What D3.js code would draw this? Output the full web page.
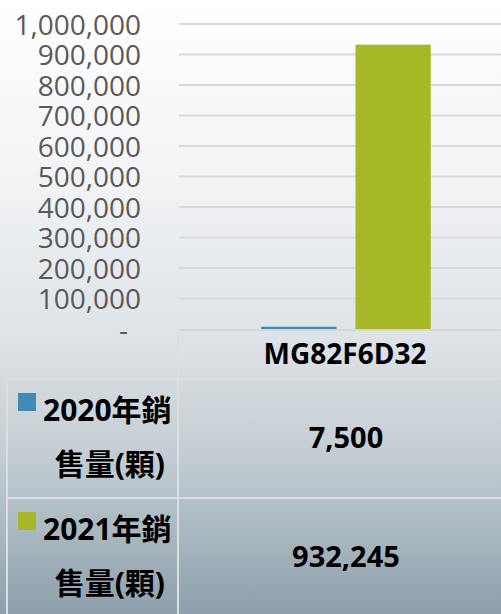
<!DOCTYPE html>
<html>
<head>
<meta charset="utf-8">
<script src="https://cdn.jsdelivr.net/npm/d3@7"></script>
<style>
html,body{margin:0;padding:0;overflow:hidden;}
svg{display:block;}
</style>
</head>
<body>
<svg id="chart" width="501" height="614"></svg>
<script>
const categories = ["MG82F6D32"];
const seriesNames = ["2020年銷售量(顆)", "2021年銷售量(顆)"];
const values2020 = [7500];
const values2021 = [932245];
const seriesColors = ["#418ab3", "#a6b727"];
const yTickValues = [0, 100000, 200000, 300000, 400000, 500000, 600000, 700000, 800000, 900000, 1000000];

const svg = d3.select("#chart");
const W = 501, H = 614;
const font = "'Open Sans', 'Noto Sans CJK TC', sans-serif";

// background gradient
const defs = svg.append("defs");
const grad = defs.append("linearGradient").attr("id", "bg").attr("x1", 0).attr("y1", 0).attr("x2", 0).attr("y2", 1);
[["0%", "#ffffff"], ["30%", "#f1f3f5"], ["55%", "#dee3e7"], ["75%", "#c2ccd2"], ["100%", "#8ea0ac"]]
  .forEach(([o, c]) => grad.append("stop").attr("offset", o).attr("stop-color", c));
svg.append("rect").attr("width", W).attr("height", H).attr("fill", "url(#bg)");

const plotLeft = 179, plotRight = 513, yBase = 329, yTop = 24;
const y = d3.scaleLinear().domain([0, 1000000]).range([yBase, yTop]);
const x0 = d3.scaleBand().domain(categories).range([plotLeft, plotRight]);
const x1 = d3.scaleBand().domain(seriesNames).range([0, x0.bandwidth()]).paddingInner(0.202).paddingOuter(0.872);

// gridlines
svg.append("g").selectAll("line").data(yTickValues.filter(v => v > 0)).join("line")
  .attr("x1", plotLeft).attr("x2", W)
  .attr("y1", d => y(d)).attr("y2", d => y(d))
  .attr("stroke", "#d9d9d9").attr("stroke-width", 2);

// y axis labels
const fmt = d3.format(",");
const yAxis = d3.axisLeft(y).tickValues(yTickValues).tickSize(0).tickPadding(0)
  .tickFormat(d => d === 0 ? "-" : fmt(d));
const gy = svg.append("g").attr("transform", "translate(141,0)").call(yAxis);
gy.select(".domain").remove();
gy.selectAll("text").attr("font-family", font).attr("font-size", 28).attr("fill", "#595959")
  .attr("dy", "0.36em")
  .attr("x", d => d === 0 ? -13 : 0);

// bars
const seriesValues = [values2020, values2021];
const barData = [];
categories.forEach((c, ci) => seriesNames.forEach((s, si) => barData.push({c, s, si, v: seriesValues[si][ci]})));
svg.append("g").selectAll("rect").data(barData).join("rect")
  .attr("x", d => x0(d.c) + x1(d.s))
  .attr("width", x1.bandwidth())
  .attr("y", d => y(d.v))
  .attr("height", d => yBase - y(d.v))
  .attr("fill", d => seriesColors[d.si]);

// table lines
const lineColor = "#dcdfe1";
const rowTop = 379, rowH = 119;
const tl = svg.append("g").attr("stroke", lineColor).attr("stroke-width", 2);
tl.append("line").attr("x1", plotLeft).attr("x2", W).attr("y1", yBase + 1).attr("y2", yBase + 1).attr("stroke", "#d5d8da");
tl.append("line").attr("x1", plotLeft - 1).attr("x2", plotLeft - 1).attr("y1", yBase + 1).attr("y2", H);
tl.append("line").attr("x1", 7).attr("x2", 7).attr("y1", rowTop).attr("y2", H);
[rowTop, rowTop + rowH].forEach(yy => tl.append("line").attr("x1", 7).attr("x2", W).attr("y1", yy).attr("y2", yy));

// category label
svg.append("g").selectAll("text").data(categories).join("text")
  .attr("x", d => x0(d) + x0.bandwidth() / 2 - 1).attr("y", 364)
  .attr("text-anchor", "middle").attr("font-family", font).attr("font-weight", "bold")
  .attr("font-size", 28).attr("fill", "#000").text(d => d);

// table rows
seriesNames.forEach((s, si) => {
  const top = rowTop + si * rowH;
  const g = svg.append("g");
  g.append("rect").attr("x", 18).attr("y", top + 14).attr("width", 18).attr("height", 18).attr("fill", seriesColors[si]);
  g.append("text").attr("x", 43).attr("y", top + 42)
    .attr("font-family", font).attr("font-weight", "bold").attr("font-size", 30).attr("fill", "#000")
    .text(s.slice(0, 6));
  g.append("text").attr("x", 165).attr("y", top + 96).attr("text-anchor", "end")
    .attr("font-family", font).attr("font-weight", "bold").attr("font-size", 30).attr("fill", "#000")
    .text(s.slice(6));
  categories.forEach((c, ci) => {
    g.append("text").attr("x", x0(c) + x0.bandwidth() / 2).attr("y", top + 69 + si * 0)
      .attr("text-anchor", "middle").attr("font-family", font).attr("font-weight", "bold")
      .attr("font-size", 29).attr("fill", "#000")
      .text(fmt(seriesValues[si][ci]));
  });
});
</script>
</body>
</html>
